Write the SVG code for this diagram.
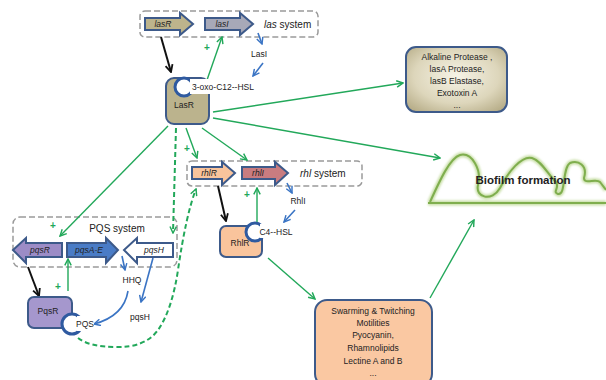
<svg xmlns="http://www.w3.org/2000/svg" width="606" height="380" viewBox="0 0 606 380">
<style>
text{font-family:"Liberation Sans",Arial,sans-serif;fill:#222;}
.lbl{font-size:8.5px;text-anchor:middle;}
.gene{font-size:8.5px;font-style:italic;text-anchor:middle;}
.sys{font-size:10px;}
.plus{font-size:10px;fill:#22a85a;font-weight:bold;text-anchor:middle;}
.gbox{stroke:#3d5a8a;stroke-width:2;}
.dash{fill:none;stroke:#9a9a9a;stroke-width:1.5;stroke-dasharray:6,3;}
.g{fill:none;stroke:#22a85a;stroke-width:1.4;}
.gd{fill:none;stroke:#22a85a;stroke-width:2;stroke-dasharray:5,3;}
.b{fill:none;stroke:#3a74c4;stroke-width:1.6;}
.k{fill:none;stroke:#111;stroke-width:2;}
.cres{fill:#fff;stroke:#2f5aa0;stroke-width:3;}
.node{stroke:#3d5a8a;stroke-width:2;}
</style>
<defs>
<marker id="ag" viewBox="0 0 10 10" refX="9" refY="5" markerWidth="8" markerHeight="8" markerUnits="userSpaceOnUse" orient="auto"><path d="M1,1 L9,5 L1,9" fill="none" stroke="#22a85a" stroke-width="1.8"/></marker>
<marker id="ab" viewBox="0 0 10 10" refX="9" refY="5" markerWidth="8" markerHeight="8" markerUnits="userSpaceOnUse" orient="auto"><path d="M1,1 L9,5 L1,9" fill="none" stroke="#3a74c4" stroke-width="1.8"/></marker>
<marker id="ak" viewBox="0 0 10 10" refX="9" refY="5" markerWidth="9" markerHeight="9" markerUnits="userSpaceOnUse" orient="auto"><path d="M1,1 L9,5 L1,9" fill="none" stroke="#111" stroke-width="2"/></marker>
<radialGradient id="khaki" cx="0.5" cy="0.45" r="0.7"><stop offset="0" stop-color="#f6f3e6"/><stop offset="0.6" stop-color="#ddd6bb"/><stop offset="1" stop-color="#b3a983"/></radialGradient>
<filter id="glow" x="-10%" y="-10%" width="120%" height="120%"><feGaussianBlur stdDeviation="1"/></filter>
</defs>

<!-- system boxes -->
<g id="las-system">
<rect class="dash" x="140" y="11" width="178" height="26" rx="5"/>
<text class="sys" x="264" y="28"><tspan font-style="italic">las</tspan> system</text>
</g>
<g id="rhl-system">
<rect class="dash" x="187" y="161" width="175" height="25" rx="5"/>
<text class="sys" x="300" y="177"><tspan font-style="italic">rhl</tspan> system</text>
</g>
<g id="pqs-system">
<rect class="dash" x="13" y="217" width="164" height="50" rx="7"/>
<text class="sys" x="117" y="232" text-anchor="middle">PQS system</text>
</g>

<!-- connectors -->
<g id="connectors">
<path class="k" d="M161,37 L171,72" marker-end="url(#ak)"/>
<path class="g" d="M207,80 L222,37" marker-end="url(#ag)"/>
<path class="b" d="M258,33 L262,44" marker-end="url(#ab)"/>
<path class="b" d="M263,63 L253,76" marker-end="url(#ab)"/>
<path class="g" d="M213,112 L403,83" marker-end="url(#ag)"/>
<path class="g" d="M213,118 L440,158" marker-end="url(#ag)"/>
<path class="g" d="M186,128 L197,158" marker-end="url(#ag)"/>
<path class="g" d="M202,128 L247,160" marker-end="url(#ag)"/>
<path class="g" d="M168,126 L60,236" marker-end="url(#ag)"/>
<path class="gd" d="M176,128 L173,233" marker-end="url(#ag)"/>
<path class="k" d="M218,186 L226,221" marker-end="url(#ak)"/>
<path class="g" d="M257,223 L257,188" marker-end="url(#ag)"/>
<path class="b" d="M287,183 L292,193" marker-end="url(#ab)"/>
<path class="b" d="M295,210 L284,222" marker-end="url(#ab)"/>
<path class="g" d="M268,258 L315,299" marker-end="url(#ag)"/>
<path class="g" d="M430,298 L474,220" marker-end="url(#ag)"/>
<path class="k" d="M28,267 L39,296" marker-end="url(#ak)"/>
<path class="g" d="M68,291 L68,259" marker-end="url(#ag)"/>
<path class="b" d="M122,256 L125,270" marker-end="url(#ab)"/>
<path class="b" d="M128,291 Q124,316 94,324" marker-end="url(#ab)"/>
<path class="b" d="M153,258 L141,302" marker-end="url(#ab)"/>
<path class="gd" d="M78,338 Q90,347 115,347 Q145,348 158,330 Q172,310 178,270 Q186,215 196,189" marker-end="url(#ag)"/>
<text class="plus" x="207" y="51">+</text>
<text class="plus" x="187" y="152">+</text>
<text class="plus" x="247" y="198">+</text>
<text class="plus" x="53" y="229">+</text>
<text class="plus" x="58" y="290">+</text>
</g>

<!-- genes -->
<g id="lasR-gene">
<polygon class="gbox" fill="#bdb48c" points="145,18 180,18 180,13 193,24 180,35 180,30 145,30"/>
<text class="gene" x="163" y="27">lasR</text>
</g>
<g id="lasI-gene">
<polygon class="gbox" fill="#a7a9b8" points="205,18 240,18 240,13 253,24 240,35 240,30 205,30"/>
<text class="gene" x="222" y="27">lasI</text>
</g>
<g id="LasI"><text class="lbl" x="259" y="57">LasI</text></g>
<g id="rhlR-gene">
<polygon class="gbox" fill="#f9c49c" points="192,167 222,167 222,162 235,173 222,185 222,179 192,179"/>
<text class="gene" x="209" y="176">rhlR</text>
</g>
<g id="rhlI-gene">
<polygon class="gbox" fill="#c97c80" points="242,167 275,167 275,162 288,173 275,185 275,179 242,179"/>
<text class="gene" x="258" y="176">rhlI</text>
</g>
<g id="RhlI"><text class="lbl" x="298" y="204">RhlI</text></g>
<g id="pqsR-gene">
<polygon class="gbox" fill="#9c8cc6" points="62,243 26,243 26,238 13,250 26,263 26,257 62,257"/>
<text class="gene" x="40" y="253">pqsR</text>
</g>
<g id="pqsAE-gene">
<polygon class="gbox" fill="#4a7cc6" points="67,243 106,243 106,238 118,250 106,263 106,257 67,257"/>
<text class="gene" x="89" y="253" fill="#1d3766">pqsA-E</text>
</g>
<g id="pqsH-gene">
<polygon class="gbox" fill="#fff" points="173,243 137,243 137,238 124,250 137,263 137,257 173,257"/>
<text class="gene" x="154" y="253">pqsH</text>
</g>
<g id="HHQ"><text class="lbl" x="132" y="283">HHQ</text></g>
<g id="pqsH-label"><text class="lbl" x="140" y="320">pqsH</text></g>

<!-- nodes -->
<g id="LasR">
<rect class="node" x="166" y="78" width="43" height="46" rx="8" fill="#bbb38d"/>
<circle class="cres" cx="184" cy="87" r="9"/>
<rect x="190" y="79" width="66" height="15" fill="#fff"/>
<text class="lbl" x="223" y="90">3-oxo-C12--HSL</text>
<text class="lbl" x="184" y="108">LasR</text>
</g>
<g id="alkaline">
<rect class="node" x="406" y="47" width="101" height="65" rx="10" fill="url(#khaki)"/>
<text class="lbl" x="457" y="60">Alkaline Protease ,</text>
<text class="lbl" x="457" y="72">lasA Protease,</text>
<text class="lbl" x="457" y="84">lasB Elastase,</text>
<text class="lbl" x="457" y="96">Exotoxin A</text>
<text class="lbl" x="457" y="108">...</text>
</g>
<g id="RhlR">
<rect class="node" x="220" y="226" width="42" height="31" rx="6" fill="#f9c49c"/>
<circle class="cres" cx="255" cy="232" r="9" fill="#f9c49c"/>
<rect x="260" y="224" width="32" height="14" fill="#fff"/>
<text class="lbl" x="276" y="235">C4--HSL</text>
<text class="lbl" x="240" y="246">RhlR</text>
</g>
<g id="PqsR">
<rect class="node" x="28" y="297" width="44" height="31" rx="6" fill="#a597cd"/>
<circle class="cres" cx="72" cy="324" r="10"/>
<rect x="77" y="316" width="17" height="15" fill="#fff"/>
<text class="lbl" x="85" y="327">PQS</text>
<text class="lbl" x="48" y="314">PqsR</text>
</g>
<g id="swarming">
<rect class="node" x="315" y="300" width="117" height="86" rx="12" fill="#fac8a2"/>
<text class="lbl" x="373" y="314">Swarming  &amp; Twitching</text>
<text class="lbl" x="373" y="326">Motilities</text>
<text class="lbl" x="373" y="338">Pyocyanin,</text>
<text class="lbl" x="373" y="351">Rhamnolipids</text>
<text class="lbl" x="373" y="364">Lectine A and B</text>
<text class="lbl" x="373" y="376">...</text>
</g>
<g id="biofilm">
<g fill="none" stroke-linejoin="round">
<path d="M428,203 L606,203 M430,202 C440,180 450,158 460,155 C472,152 482,170 478,185 C475,198 492,202 500,188 C508,172 522,155 532,158 C542,161 548,175 556,182 C560,188 552,192 558,194 C566,196 562,168 570,163 C578,160 588,165 584,178 C584,185 596,178 600,182 L606,190" stroke="#c9dfa8" stroke-width="5" filter="url(#glow)"/>
<path d="M428,203 L606,203 M430,202 C440,180 450,158 460,155 C472,152 482,170 478,185 C475,198 492,202 500,188 C508,172 522,155 532,158 C542,161 548,175 556,182 C560,188 552,192 558,194 C566,196 562,168 570,163 C578,160 588,165 584,178 C584,185 596,178 600,182 L606,190" stroke="#7fae4e" stroke-width="2"/>
</g>
<text x="523" y="184" font-size="11.5" font-weight="bold" text-anchor="middle">Biofilm formation</text>
</g>
</svg>
